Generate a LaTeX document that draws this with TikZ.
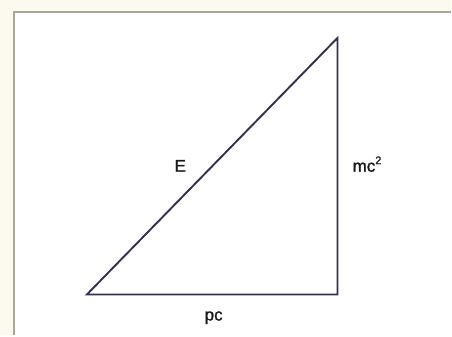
\documentclass[tikz,border=0pt]{standalone}
\usepackage{fontspec}
\setmainfont{Liberation Sans}
\newfontfamily\lblfont[FakeBold=1.2]{Liberation Sans}
\definecolor{paper}{RGB}{252,250,238}
\definecolor{frame}{RGB}{168,166,150}
\definecolor{ink}{RGB}{52,48,78}
\begin{document}
\begin{tikzpicture}[x=1pt, y=-1pt, auto, >=stealth,
	side/.style={line width=1.9pt, ink, line join=miter},
	lbl/.style={font=\lblfont\fontsize{17}{19}\selectfont, text=black!90, inner sep=0pt}]
	\fill[paper] (0, 0) rectangle (452, 336);
	\fill[white] (14, 12) rectangle (452, 336);
	\draw[frame, line width=1.4pt] (14, 336) -- (14, 12) -- (452, 12);
	\useasboundingbox (0, 0) rectangle (452, 336);
	\coordinate (P) at (87, 295);
	\coordinate (Q) at (338, 295);
	\coordinate (R) at (338, 38);
	\draw[side] (P) -- (Q) -- (R) -- cycle;
	\node[lbl, anchor=base] (E) at (180.5, 172) {E};
	\node[lbl, anchor=base west] (M) at (353, 172) {mc\raisebox{0.45em}{\fontsize{11}{12}\selectfont 2}};
	\node[lbl, anchor=base] (pc) at (214, 321) {pc};
      \end{tikzpicture}
\end{document}
